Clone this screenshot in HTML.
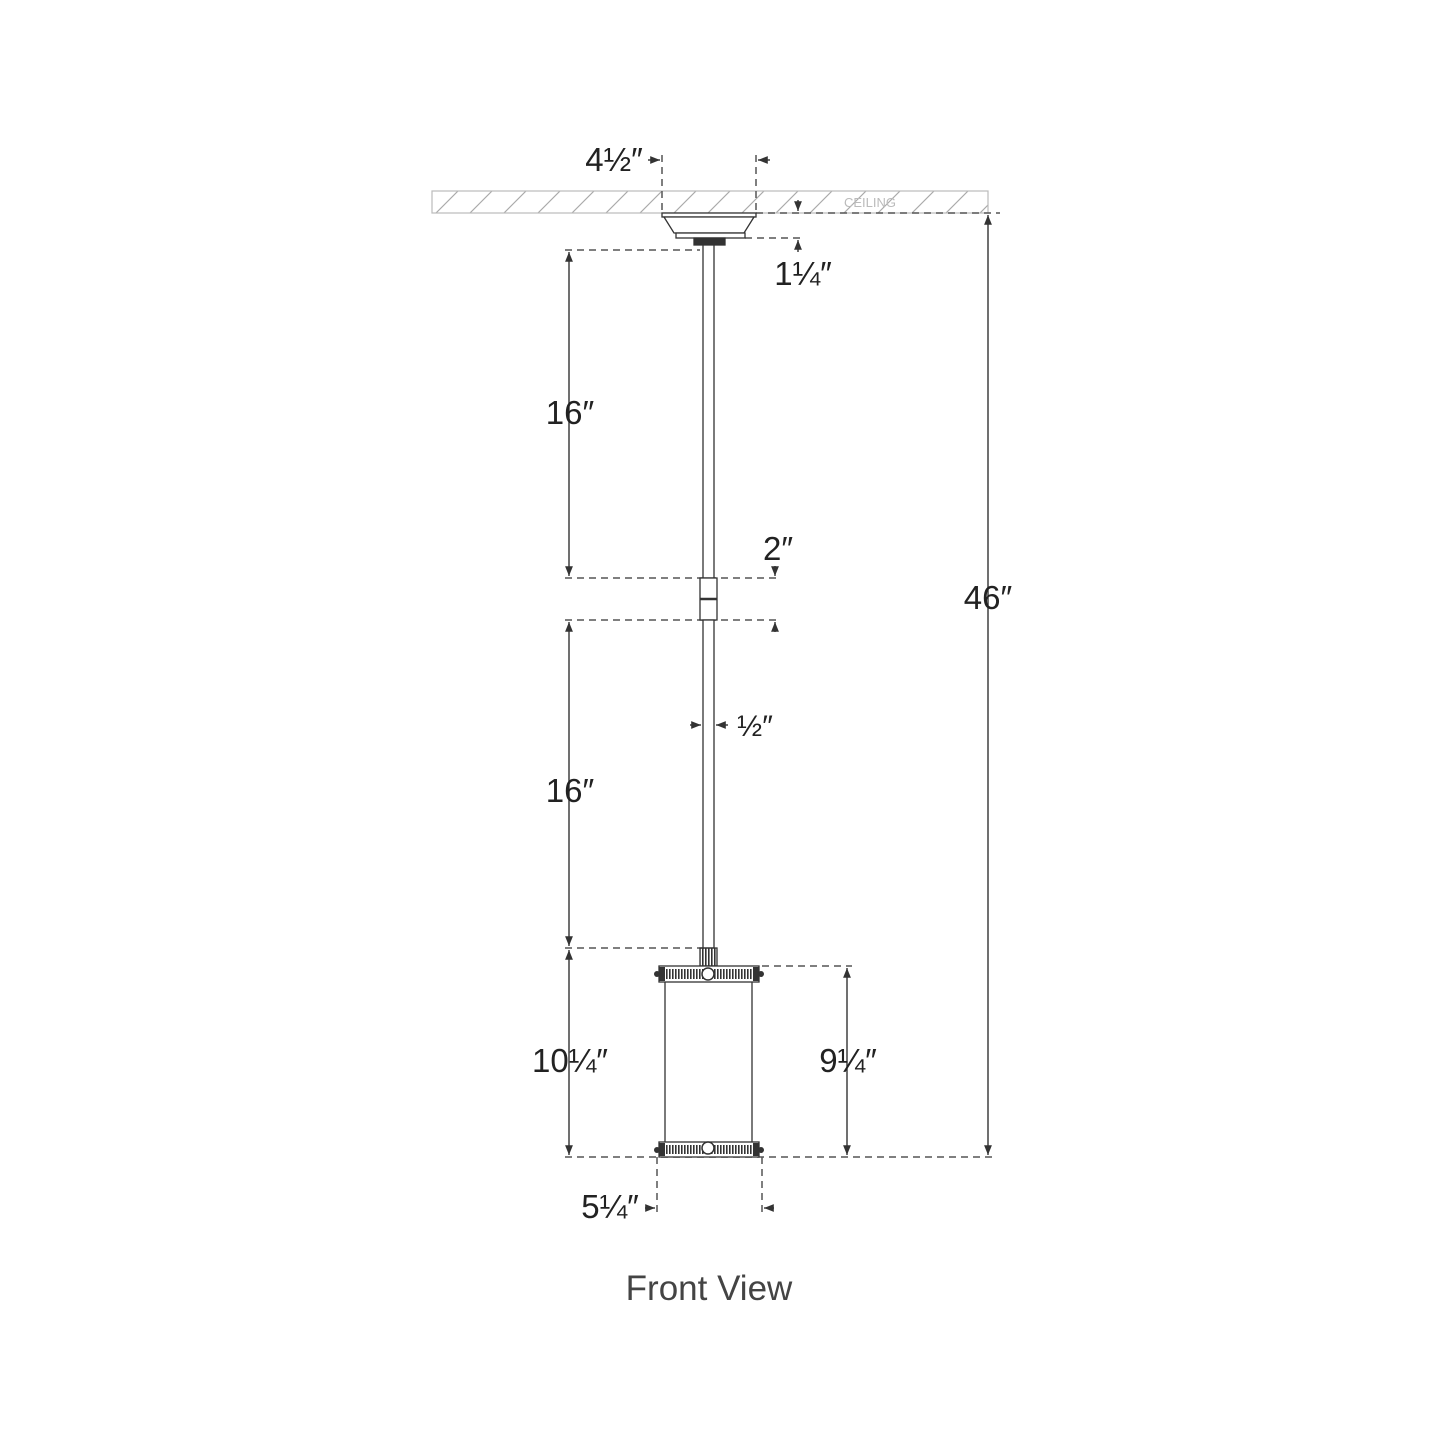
<!DOCTYPE html>
<html><head><meta charset="utf-8"><style>
html,body{margin:0;padding:0;background:#fff;}
svg text{font-family:"Liberation Sans",sans-serif;fill:#222;}
</style></head><body>
<svg width="1445" height="1445" viewBox="0 0 1445 1445" xmlns="http://www.w3.org/2000/svg">
<defs>
<marker id="a" viewBox="0 0 10 10" refX="10" refY="5" markerWidth="7" markerHeight="7" orient="auto-start-reverse"><path d="M0,1 L10,5 L0,9 Z" fill="#333"/></marker>
<pattern id="h" width="34" height="22" patternUnits="userSpaceOnUse" x="432" y="191"><line x1="4" y1="22" x2="26" y2="0" stroke="#aaa" stroke-width="1.2"/></pattern>
<pattern id="s" width="3" height="10" patternUnits="userSpaceOnUse"><rect x="0" y="0" width="1.6" height="10" fill="#333"/></pattern>
</defs>
<rect x="432" y="191" width="556" height="22" fill="url(#h)" stroke="#bbb" stroke-width="1.2"/>
<text x="870" y="207" font-size="13" style="fill:#bbb" text-anchor="middle">CEILING</text>
<g stroke="#555" stroke-width="1.5" stroke-dasharray="7,5" fill="none">
<line x1="662" y1="155" x2="662" y2="213"/><line x1="756" y1="155" x2="756" y2="213"/>
<line x1="756" y1="213" x2="1000" y2="213"/>
<line x1="745" y1="238" x2="800" y2="238"/>
<line x1="565" y1="250" x2="700" y2="250"/>
<line x1="565" y1="578" x2="778" y2="578"/>
<line x1="565" y1="620" x2="778" y2="620"/>
<line x1="565" y1="948" x2="705" y2="948"/>
<line x1="762" y1="966" x2="852" y2="966"/>
<line x1="565" y1="1157" x2="992" y2="1157"/>
<line x1="657" y1="1157" x2="657" y2="1215"/><line x1="762" y1="1157" x2="762" y2="1215"/>
</g>
<g stroke="#333" stroke-width="1.4" fill="none">
<line x1="569" y1="252" x2="569" y2="576" marker-start="url(#a)" marker-end="url(#a)"/>
<line x1="569" y1="622" x2="569" y2="946" marker-start="url(#a)" marker-end="url(#a)"/>
<line x1="569" y1="950" x2="569" y2="1155" marker-start="url(#a)" marker-end="url(#a)"/>
<line x1="847" y1="968" x2="847" y2="1155" marker-start="url(#a)" marker-end="url(#a)"/>
<line x1="988" y1="215" x2="988" y2="1155" marker-start="url(#a)" marker-end="url(#a)"/>
<line x1="648" y1="160" x2="660" y2="160" marker-end="url(#a)"/>
<line x1="770" y1="160" x2="758" y2="160" marker-end="url(#a)"/>
<line x1="798" y1="200" x2="798" y2="211" marker-end="url(#a)"/>
<line x1="798" y1="252" x2="798" y2="240" marker-end="url(#a)"/>
<line x1="775" y1="566" x2="775" y2="576" marker-end="url(#a)"/>
<line x1="775" y1="632" x2="775" y2="622" marker-end="url(#a)"/>
<line x1="690" y1="725" x2="701" y2="725" marker-end="url(#a)"/>
<line x1="728" y1="725" x2="716" y2="725" marker-end="url(#a)"/>
<line x1="645" y1="1208" x2="655" y2="1208" marker-end="url(#a)"/>
<line x1="774" y1="1208" x2="764" y2="1208" marker-end="url(#a)"/>
</g>
<g stroke="#333" stroke-width="1.3" fill="#fff">
<rect x="662" y="213" width="94" height="4"/>
<path d="M664,217 L754,217 L744,233 L674,233 Z"/>
<rect x="676" y="233" width="69" height="5"/>
<rect x="694" y="238" width="31" height="7" fill="#333"/>
<rect x="703" y="245" width="11" height="333"/>
<rect x="700" y="578" width="17" height="42"/>
<line x1="700" y1="599" x2="717" y2="599" stroke-width="2.5"/>
<rect x="703" y="620" width="11" height="328"/>
<rect x="700" y="948" width="17" height="18" fill="url(#s)"/>
<line x1="665" y1="982" x2="665" y2="1142"/>
<line x1="752" y1="982" x2="752" y2="1142"/>
</g>
<g>
<rect x="659" y="966" width="100" height="16" fill="#fff" stroke="#333" stroke-width="1.3"/>
<rect x="661" y="969" width="96" height="10" fill="url(#s)"/>
<rect x="659" y="1142" width="100" height="15" fill="#fff" stroke="#333" stroke-width="1.3"/>
<rect x="661" y="1145" width="96" height="9" fill="url(#s)"/>
<rect x="659" y="967" width="6" height="14" fill="#333"/><rect x="753" y="967" width="6" height="14" fill="#333"/>
<rect x="659" y="1143" width="6" height="13" fill="#333"/><rect x="753" y="1143" width="6" height="13" fill="#333"/>
<circle cx="708" cy="974" r="6" fill="#fff" stroke="#333" stroke-width="1.5"/>
<circle cx="708" cy="1148" r="6" fill="#fff" stroke="#333" stroke-width="1.5"/>
<circle cx="657" cy="974" r="3" fill="#333"/><circle cx="761" cy="974" r="3" fill="#333"/>
<circle cx="657" cy="1150" r="3" fill="#333"/><circle cx="761" cy="1150" r="3" fill="#333"/>
</g>
<g font-size="33" text-anchor="middle">
<text x="614" y="171">4½″</text>
<text x="803" y="285">1¼″</text>
<text x="570" y="424">16″</text>
<text x="778" y="560">2″</text>
<text x="755" y="736" font-size="30">½″</text>
<text x="570" y="802">16″</text>
<text x="570" y="1072">10¼″</text>
<text x="848" y="1072">9¼″</text>
<text x="988" y="609">46″</text>
<text x="610" y="1218">5¼″</text>
</g>
<text x="709" y="1300" font-size="35" text-anchor="middle" style="fill:#444">Front View</text>
</svg>
</body></html>
